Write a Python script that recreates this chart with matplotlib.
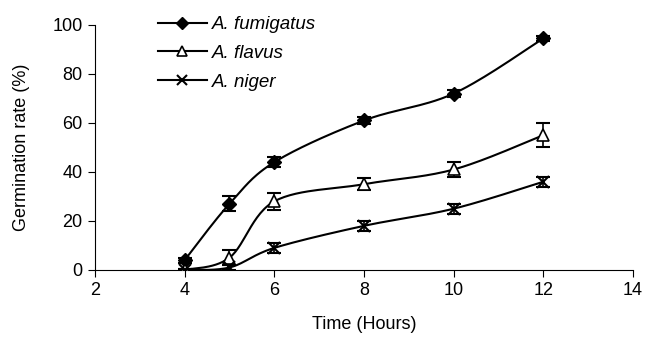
import numpy as np
import matplotlib
matplotlib.use("Agg")
import matplotlib.pyplot as plt
from matplotlib.lines import Line2D

plt.rcParams['font.family'] = ['Liberation Sans', 'DejaVu Sans']

time_h = [4, 5, 6, 8, 10, 12]
fumigatus = [4, 27, 44, 61, 72, 94.5]
fumigatus_err = [1, 3, 2, 1.5, 1.5, 1]
flavus = [0, 5, 28, 35, 41, 55]
flavus_err = [0.5, 3, 3.5, 2.5, 3, 5]
niger = [0, 1, 9, 18, 25, 36]
niger_err = [0.5, 1, 2, 2, 2, 2]
series_names = ['A. fumigatus', 'A. flavus', 'A. niger']
x_ticks = [2, 4, 6, 8, 10, 12, 14]
y_ticks = [0, 20, 40, 60, 80, 100]


def smooth(x, y, n=30, tension=0.5):
    x = np.asarray(x, float); y = np.asarray(y, float)
    px = np.concatenate([[x[0]], x, [x[-1]]])
    py = np.concatenate([[y[0]], y, [y[-1]]])
    xs, ys = [], []
    for i in range(1, len(px) - 2):
        p0 = np.array([px[i-1], py[i-1]]); p1 = np.array([px[i], py[i]])
        p2 = np.array([px[i+1], py[i+1]]); p3 = np.array([px[i+2], py[i+2]])
        c1 = p1 + (p2 - p0) * tension / 3
        c2 = p2 - (p3 - p1) * tension / 3
        t = np.linspace(0, 1, n)[:, None]
        b = (1-t)**3*p1 + 3*(1-t)**2*t*c1 + 3*(1-t)*t**2*c2 + t**3*p2
        xs.extend(b[:, 0]); ys.extend(b[:, 1])
    return np.array(xs), np.array(ys)


FS = 13
fig = plt.figure(figsize=(6.46, 3.37), dpi=100)
ax = fig.add_axes([0.147, 0.199, 0.833, 0.727])

styles = [
    dict(marker='D', mfc='black', mec='black', ms=7),
    dict(marker='^', mfc='white', mec='black', ms=8, mew=1.2),
    dict(marker='x', mfc='black', mec='black', ms=8, mew=1.5),
]
data = [(fumigatus, fumigatus_err), (flavus, flavus_err), (niger, niger_err)]
handles = []
for (vals, errs), st, name in zip(data, styles, series_names):
    sx, sy = smooth(time_h, vals)
    ax.plot(sx, sy, color='black', lw=1.5, zorder=2)
    ax.errorbar(time_h, vals, yerr=errs, fmt='none', ecolor='black',
                elinewidth=1.2, capsize=5, capthick=1.5, zorder=3)
    ax.plot(time_h, vals, linestyle='none', zorder=4, **st)
    hst = dict(st)
    hst['ms'] = st['ms'] - 1
    handles.append(Line2D([], [], color='black', lw=1.5, **hst))

ax.set_xlim(2, 14)
ax.set_ylim(0, 100)
ax.set_xticks(x_ticks)
ax.set_yticks(y_ticks)
ax.spines['top'].set_visible(False)
ax.spines['right'].set_visible(False)
ax.tick_params(direction='out', length=5, labelsize=FS, colors='black', pad=4)
ax.set_xlabel('Time (Hours)', fontsize=FS, labelpad=12)
ax.set_ylabel('Germination rate (%)', fontsize=FS, labelpad=16)

leg = fig.legend(handles, series_names, loc='upper left',
                 bbox_to_anchor=(158 / 646, 1 - 16 / 337),
                 frameon=False, handlelength=2.6, labelspacing=0.62,
                 handletextpad=0.3, borderpad=0, borderaxespad=0,
                 prop={'style': 'italic', 'size': 13.5})

fig.savefig('out.png', dpi=100)
